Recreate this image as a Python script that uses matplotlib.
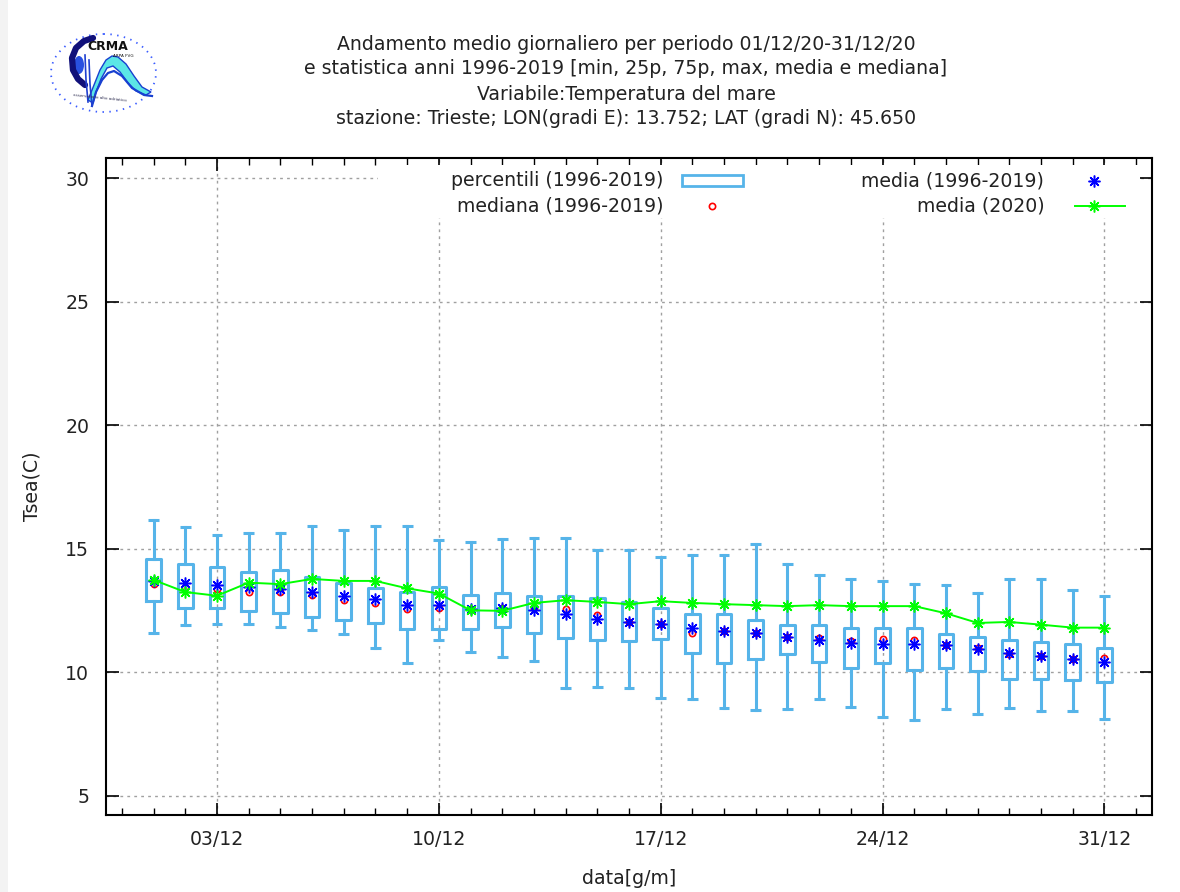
import numpy as np
import matplotlib
matplotlib.use("Agg")
import matplotlib.pyplot as plt
from matplotlib.patches import Ellipse, Rectangle, Polygon

# daily statistics, December (day of month)
days = list(range(1, 32))
p_max = [16.18, 15.87, 15.57, 15.64, 15.64, 15.94, 15.76, 15.94, 15.94, 15.34,
         15.29, 15.39, 15.45, 15.45, 14.97, 14.97, 14.66, 14.73, 14.73, 15.20,
         14.37, 13.94, 13.76, 13.71, 13.59, 13.52, 13.21, 13.76, 13.76, 13.34, 13.10]
p75 = [14.57, 14.38, 14.25, 14.08, 14.14, 13.85, 13.61, 13.42, 13.27, 13.44,
       13.13, 13.22, 13.11, 13.11, 13.00, 12.85, 12.62, 12.38, 12.38, 12.13,
       11.92, 11.92, 11.78, 11.78, 11.78, 11.54, 11.43, 11.29, 11.24, 11.13, 10.99]
p25 = [12.89, 12.62, 12.61, 12.47, 12.40, 12.26, 12.11, 11.98, 11.75, 11.75,
       11.75, 11.82, 11.59, 11.40, 11.30, 11.26, 11.37, 10.80, 10.38, 10.56,
       10.75, 10.43, 10.18, 10.39, 10.08, 10.18, 10.07, 9.74, 9.74, 9.69, 9.61]
p_min = [11.59, 11.90, 11.96, 11.96, 11.83, 11.71, 11.54, 10.99, 10.38, 11.29,
         10.82, 10.63, 10.45, 9.35, 9.42, 9.35, 8.98, 8.93, 8.57, 8.48,
         8.52, 8.93, 8.61, 8.19, 8.08, 8.52, 8.33, 8.57, 8.45, 8.45, 8.10]
mean_clim = [13.70, 13.60, 13.55, 13.44, 13.37, 13.27, 13.07, 12.95, 12.72, 12.72,
             12.58, 12.62, 12.51, 12.35, 12.15, 12.04, 11.97, 11.81, 11.67, 11.60,
             11.44, 11.33, 11.20, 11.16, 11.16, 11.10, 10.93, 10.79, 10.67, 10.53, 10.41]
median = [13.57, 13.44, 13.37, 13.27, 13.26, 13.13, 12.92, 12.80, 12.57, 12.62,
          12.58, 12.62, 12.62, 12.55, 12.32, 12.04, 11.94, 11.60, 11.67, 11.60,
          11.44, 11.40, 11.26, 11.37, 11.29, 11.10, 10.97, 10.74, 10.67, 10.53, 10.58]
mean_2020 = [13.74, 13.25, 13.10, 13.63, 13.57, 13.78, 13.70, 13.70, 13.40, 13.19,
             12.51, 12.49, 12.81, 12.92, 12.85, 12.76, 12.88, 12.81, 12.76, 12.72,
             12.68, 12.72, 12.68, 12.68, 12.68, 12.39, 12.00, 12.04, 11.93, 11.81, 11.81]

x_ticks = [3, 10, 17, 24, 31]
x_labels = ["03/12", "10/12", "17/12", "24/12", "31/12"]

title_lines = [
    "Andamento medio giornaliero per periodo 01/12/20-31/12/20",
    "e statistica anni 1996-2019 [min, 25p, 75p, max, media e mediana]",
    "Variabile:Temperatura del mare",
    "stazione: Trieste; LON(gradi E): 13.752; LAT (gradi N): 45.650",
]

box_c = "#56b4e9"
asterisk = (8, 2, 0)
W, H = 1180, 892
fs = 13.6
txt_c = "#222222"

fig = plt.figure(figsize=(W / 100, H / 100), dpi=100)
# light grey strip of the screenshot frame
fig.patches.append(Rectangle((0, 0), 8 / W, 1, transform=fig.transFigure,
                             fc="#f3f3f3", ec="none", zorder=0))
ax = fig.add_axes([106 / W, 1 - 815 / H, (1152 - 106) / W, (815 - 158) / H])

stats = [dict(med=m, q1=a, q3=b, whislo=lo, whishi=hi, fliers=[])
         for m, a, b, lo, hi in zip(median, p25, p75, p_min, p_max)]
ax.bxp(stats, positions=days, widths=0.46, capwidths=0.34, showfliers=False,
       boxprops=dict(color=box_c, lw=2.2),
       whiskerprops=dict(color=box_c, lw=2.2),
       capprops=dict(color=box_c, lw=2.2, solid_capstyle="butt"),
       medianprops=dict(lw=0), manage_ticks=False, zorder=2)

ax.plot(days, median, ls="none", marker="o", ms=4.5, mfc="none", mec="red", mew=1.2, zorder=4)
ax.plot(days, mean_clim, ls="none", marker=asterisk, ms=8.5, mec="blue", mew=1.1, zorder=5)
ax.plot(days, mean_2020, color="#00ff00", lw=1.4, marker=asterisk, ms=8.5, mew=1.1, zorder=6)

ax.set_xlim(-0.5, 32.5)
ax.set_ylim(4.23, 30.81)
ax.set_xticks(x_ticks)
ax.set_xticklabels(x_labels)
ax.set_xticks(range(0, 33), minor=True)
ax.set_yticks([5, 10, 15, 20, 25, 30])
ax.tick_params(which="both", direction="in", top=True, right=True, labelsize=fs,
               colors="black", labelcolor=txt_c)
ax.tick_params(which="major", length=9, width=1.2)
ax.tick_params(which="minor", length=5, width=1.0)
ax.tick_params(axis="y", pad=12)
ax.tick_params(axis="x", pad=11)
ax.grid(True, which="major", color="#a0a0a0", lw=1.0, ls=(0, (2, 3)))
for s in ax.spines.values():
    s.set_linewidth(1.5)

ax.set_xlabel("data[g/m]", fontsize=fs, color=txt_c, labelpad=14)
ax.set_ylabel("Tsea(C)", fontsize=fs, color=txt_c, labelpad=17)

# legend drawn by hand (gnuplot style, opaque key area)
tr = ax.transAxes
ax.add_patch(Rectangle((0.26, 0.909), 0.728, 0.08, transform=tr, fc="white", ec="none", zorder=7))
ax.text(0.533, 0.965, "percentili (1996-2019)", transform=tr, ha="right", va="center", fontsize=fs, color=txt_c, zorder=8)
ax.add_patch(Rectangle((0.551, 0.957), 0.058, 0.017, transform=tr, fc="white", ec=box_c, lw=2.0, zorder=8))
ax.text(0.533, 0.927, "mediana (1996-2019)", transform=tr, ha="right", va="center", fontsize=fs, color=txt_c, zorder=8)
ax.plot([0.579], [0.927], transform=tr, ls="none", marker="o", ms=4.5, mfc="none", mec="red", mew=1.2, zorder=8)
ax.text(0.897, 0.965, "media (1996-2019)", transform=tr, ha="right", va="center", fontsize=fs, color=txt_c, zorder=8)
ax.plot([0.9446], [0.965], transform=tr, ls="none", marker=asterisk, ms=8.5, mec="blue", mew=1.1, zorder=8)
ax.text(0.897, 0.927, "media (2020)", transform=tr, ha="right", va="center", fontsize=fs, color=txt_c, zorder=8)
ax.plot([0.926, 0.974], [0.927, 0.927], transform=tr, color="#00ff00", lw=1.4, zorder=8)
ax.plot([0.9446], [0.927], transform=tr, ls="none", marker=asterisk, ms=8.5, mec="#00ff00", mew=1.1, zorder=8)

for line, py in zip(title_lines, [45, 69, 94, 119]):
    fig.text(626 / W, 1 - py / H, line, ha="center", va="center", fontsize=fs, color=txt_c)

# rough sketch of the CRMA logo, drawn in pixel coordinates
lg = fig.add_axes([46 / W, 1 - 117 / H, 116 / W, 91 / H])
lg.set_xlim(46, 162)
lg.set_ylim(117, 26)
lg.axis("off")
lg.add_patch(Ellipse((103.5, 73), 105, 78, fill=False, ec="#3a5cff", lw=1.3, ls=(0, (0.8, 3))))
lg.plot([93, 84, 76, 72, 73, 78, 85], [38, 41, 48, 58, 70, 79, 85], color="#10107a", lw=4.5,
        solid_capstyle="round")
lg.add_patch(Ellipse((79, 65), 10, 18, fc="#2850e0", ec="none"))
lg.add_patch(Polygon([(88, 100), (94, 85), (100, 70), (106, 60), (112, 56), (118, 57), (126, 64),
                      (134, 76), (142, 87), (151, 92), (146, 95), (136, 91), (128, 83), (120, 72),
                      (113, 66), (107, 68), (101, 79), (96, 92), (93, 103)],
                     fc="#5ce6e6", ec="#1840d0", lw=1.0))
lg.plot([92, 96, 102, 108, 114, 122, 132, 144, 152], [106, 92, 80, 73, 71, 76, 88, 95, 96],
        color="#1840d0", lw=1.6)
lg.plot([85, 86, 88], [55, 80, 102], color="#2040d0", lw=1.2)
lg.plot([89, 90, 92], [60, 84, 106], color="#2040d0", lw=1.2)
lg.text(108, 46, "CRMA", ha="center", va="center", fontsize=9, fontweight="bold", color="#111111")
lg.text(123, 56, "ARPA FVG", ha="center", va="center", fontsize=3, color="#111111")
lg.text(100, 98, "osservatorio alto adriatico", ha="center", va="center", fontsize=3,
        rotation=-6, color="#333355")

fig.savefig("out.png", dpi=100)
